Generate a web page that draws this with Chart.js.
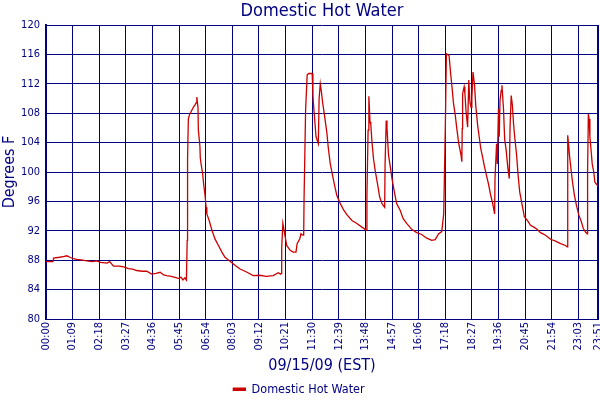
<!DOCTYPE html>
<html>
<head>
  <title>Domestic Hot Water</title>
  <script src="https://cdn.jsdelivr.net/npm/chart.js"></script>
  <style>
    body { margin: 0; background: #fff; }
    #chart-container { width: 600px; height: 400px; }
  </style>
</head>
<body>
  <div id="chart-container">
    <canvas id="dhwChart"></canvas>
  </div>

  <script>
    const NAVY = '#000080';
    const FONT = '"DejaVu Sans Condensed", "DejaVu Sans", sans-serif';

    const chartTitle = 'Domestic Hot Water';
    const seriesLabel = 'Domestic Hot Water';
    const xTitle = '09/15/09 (EST)';
    const yTitle = 'Degrees F';

    // x axis tick positions (minutes after midnight) and their labels
    const tickMinutes = [0, 69, 138, 207, 276, 345, 414, 483, 552, 621, 690, 759, 828, 897, 966, 1035, 1104, 1173, 1242, 1311, 1380, 1431];
    const tickLabels = ['00:00', '01:09', '02:18', '03:27', '04:36', '05:45', '06:54', '08:03', '09:12', '10:21', '11:30', '12:39', '13:48', '14:57', '16:06', '17:18', '18:27', '19:36', '20:45', '21:54', '23:03', '23:51'];

    // readings: minutes after midnight / temperature (deg F)
    const minutes = [
      0, 18, 20, 35, 45, 54, 62, 71, 80, 95, 106, 120, 132, 141, 158, 165, 175, 190, 201, 214,
      225, 235, 250, 261, 274, 285, 296, 305, 313, 325, 339, 345, 350, 355, 360, 364,
      366, 367, 369, 372, 379, 383, 386, 389, 391, 394, 395, 399, 400, 402, 406, 409, 412, 415, 417,
      423, 430, 438, 447, 456, 464, 477, 490, 503, 520, 537, 554, 571, 589, 602, 608, 610,
      611, 614, 617, 620, 624, 633, 641, 648, 651, 658, 661, 666, 668, 669, 673, 677, 681, 690,
      692, 693, 696, 700, 706, 708, 711, 714, 717, 722, 728, 732, 737, 743, 748, 754, 763, 772, 780,
      793, 806, 819, 830, 832, 835, 837, 840, 842, 845, 849, 854, 860, 865, 871, 878,
      879, 882, 884, 888, 892, 897, 903, 909, 918, 926, 935, 948, 961, 974, 987, 1000, 1009, 1018,
      1026, 1031, 1035, 1038, 1041, 1045, 1049, 1053, 1056, 1061, 1065, 1070, 1076, 1078,
      1079, 1080, 1084, 1086, 1089, 1093, 1096, 1099, 1102, 1104, 1107, 1111, 1114, 1119, 1123,
      1127, 1132, 1136, 1142, 1147, 1153, 1158, 1163, 1164, 1168, 1170, 1173, 1175, 1177, 1180,
      1182, 1186, 1189, 1193, 1197, 1201, 1203, 1206, 1209, 1212, 1215, 1220, 1224, 1228, 1233,
      1237, 1240, 1248, 1256, 1265, 1273, 1282, 1295, 1308, 1321, 1334, 1347, 1351,
      1352, 1353, 1355, 1357, 1361, 1365, 1370, 1375, 1381, 1388, 1393, 1399, 1403,
      1404, 1406, 1408, 1410, 1413, 1416, 1420, 1423, 1431
    ];
    const temps = [
      87.8, 87.8, 88.3, 88.4, 88.5, 88.6, 88.4, 88.2, 88.1, 88.0, 87.9, 87.8, 87.9, 87.7, 87.6, 87.8, 87.2, 87.2, 87.1, 86.85,
      86.8, 86.6, 86.5, 86.5, 86.1, 86.2, 86.35, 86.0, 85.9, 85.8, 85.6, 85.5, 85.7, 85.3, 85.6, 85.3,
      90.7, 101.8, 107.2, 107.8, 108.5, 108.9, 109.1, 109.4, 110.2, 108.8, 105.7, 103.5, 101.9, 101.1, 99.8, 98.2, 97.0, 95.2, 94.3,
      93.4, 92.1, 90.9, 90.0, 89.1, 88.4, 87.85, 87.3, 86.8, 86.4, 85.9, 85.95, 85.8, 85.9, 86.3, 86.1, 86.2,
      89.6, 93.0, 92.1, 91.2, 90.0, 89.35, 89.1, 89.1, 90.25, 90.9, 91.6, 91.4, 91.4, 96.4, 108.4, 113.2, 113.4, 113.4,
      110.5, 109.5, 107.5, 104.8, 103.85, 110.0, 112.0, 110.9, 109.5, 107.7, 105.4, 103.2, 101.1, 99.5, 98.2, 96.8, 95.7, 94.8, 94.2,
      93.4, 93.0, 92.5, 92.1, 96.8, 105.7, 110.3, 106.8, 106.5, 104.1, 101.8, 100.0, 98.2, 96.6, 95.7, 95.2,
      101.1, 107.0, 105.9, 102.3, 100.9, 99.1, 97.3, 95.7, 94.8, 93.65, 93.0, 92.2, 91.75, 91.5, 91.0, 90.7, 90.8, 91.6,
      91.9, 94.3, 105.4, 116.1, 116.0, 115.8, 113.4, 111.3, 109.5, 107.7, 105.9, 103.85, 102.3, 101.4,
      105.9, 110.65, 111.6, 110.65, 108.2, 106.1, 112.5, 109.5, 108.8, 110.0, 113.6, 111.8, 109.1, 106.35, 104.8,
      103.2, 102.0, 100.9, 99.5, 98.4, 96.8, 95.7, 94.3, 99.1, 103.85, 101.1, 108.6, 104.8, 109.75, 111.1,
      111.8, 108.6, 104.5, 102.95, 100.7, 99.1, 106.1, 110.4, 109.1, 106.6, 104.8, 102.3, 99.5, 97.3, 95.9,
      94.8, 93.9, 93.4, 92.75, 92.5, 92.2, 91.75, 91.4, 90.85, 90.6, 90.25, 90.0, 89.8,
      97.3, 105.0, 103.6, 102.3, 100.4, 98.6, 96.8, 95.5, 94.2, 93.2, 92.3, 91.8, 91.6,
      100.0, 107.9, 107.2, 104.8, 103.0, 101.1, 100.0, 98.6, 98.1
    ];

    const yMin = 80;
    const yMax = 120;
    const yStep = 4;

    // title centred over the plot area, not the whole canvas
    const plotTitle = {
      id: 'plotTitle',
      afterDraw(chart) {
        const { ctx, chartArea } = chart;
        ctx.save();
        ctx.font = '18px ' + FONT;
        ctx.fillStyle = NAVY;
        ctx.textAlign = 'center';
        ctx.textBaseline = 'middle';
        ctx.fillText(chartTitle, (chartArea.left + chartArea.right) / 2, 11);
        ctx.restore();
      }
    };

    const points = minutes.map((m, i) => ({ x: m, y: temps[i] }));

    const chart = new Chart(document.getElementById('dhwChart'), {
      type: 'line',
      data: {
        datasets: [{
          label: seriesLabel,
          data: points,
          borderColor: '#cc0000',
          backgroundColor: '#cc0000',
          borderWidth: 1.3,
          pointRadius: 0,
          tension: 0
        }]
      },
      options: {
        animation: false,
        responsive: true,
        maintainAspectRatio: false,
        layout: { padding: { top: 25, right: 2, left: 0, bottom: 0 } },
        plugins: {
          title: { display: false },
          tooltip: { enabled: false },
          legend: {
            position: 'bottom',
            maxHeight: 21,
            labels: {
              color: NAVY,
              font: { family: FONT, size: 12.5 },
              boxWidth: 12,
              boxHeight: 2,
              padding: 4
            }
          }
        },
        scales: {
          x: {
            type: 'linear',
            min: 0,
            max: 1431,
            afterBuildTicks(scale) {
              scale.ticks = tickMinutes.map(v => ({ value: v }));
            },
            afterFit(scale) {
              scale.height = 60;
              scale.paddingLeft = 0;
              scale.paddingRight = 0;
            },
            ticks: {
              autoSkip: false,
              minRotation: 90,
              maxRotation: 90,
              padding: 3,
              color: NAVY,
              font: { family: FONT, size: 11 },
              callback: (value, index) => tickLabels[index]
            },
            grid: {
              color: NAVY,
              lineWidth: ctx => (ctx.index === tickMinutes.length - 1 ? 2 : 1),
              drawTicks: false
            },
            border: { color: NAVY, width: 1 },
            title: {
              display: true,
              text: xTitle,
              color: NAVY,
              font: { family: FONT, size: 16 },
              padding: { top: 0, bottom: 3.5 }
            }
          },
          y: {
            min: yMin,
            max: yMax,
            afterFit(scale) {
              scale.width = 46;
            },
            ticks: {
              stepSize: yStep,
              padding: 6,
              color: NAVY,
              font: { family: FONT, size: 11 }
            },
            grid: {
              color: NAVY,
              lineWidth: 1,
              drawTicks: false
            },
            border: { color: NAVY, width: 2 },
            title: {
              display: true,
              text: yTitle,
              color: NAVY,
              font: { family: FONT, size: 16 },
              padding: { top: 0, bottom: 0 }
            }
          }
        }
      },
      plugins: [plotTitle]
    });
  </script>
</body>
</html>
